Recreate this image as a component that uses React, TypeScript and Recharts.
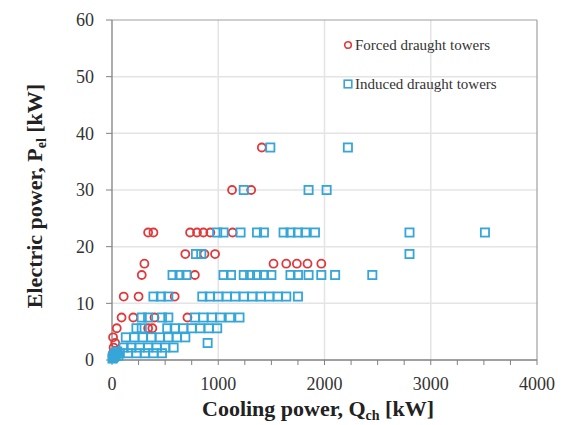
import React from "react";
import {
  ScatterChart,
  Scatter,
  XAxis,
  YAxis,
  ReferenceLine,
} from "recharts";

// Forced draught towers (red circles)
const forcedQ = [
  1410,
  1130, 1310,
  340, 390, 735, 800, 860, 925, 1135,
  690, 870, 970,
  305, 1520, 1640, 1740, 1840, 1970,
  280, 780,
  110, 250, 590,
  90, 200, 400, 710,
  45, 340, 380,
  10, 30, 15, 10, 5,
];
const forcedP = [
  37.5,
  30, 30,
  22.5, 22.5, 22.5, 22.5, 22.5, 22.5, 22.5,
  18.7, 18.7, 18.7,
  17, 17, 17, 17, 17, 17,
  15, 15,
  11.2, 11.2, 11.2,
  7.5, 7.5, 7.5, 7.5,
  5.6, 5.6, 5.6,
  4, 3, 2.2, 1.2, 0.75,
];

// Induced draught towers (blue squares)
const inducedQ = [
  1490, 2220,
  1240, 1850, 2020,
  990, 1050, 1210, 1365, 1430, 1615, 1680, 1750, 1820, 1910, 2800, 3510,
  790, 840, 2800,
  570, 635, 700, 1050, 1120, 1240, 1300, 1365, 1430, 1500, 1680, 1750, 1850, 1970, 2100, 2450,
  390, 460, 530, 850, 920, 1000, 1080, 1160, 1240, 1320, 1400, 1480, 1560, 1640, 1750,
  280, 340, 470, 530, 780, 860, 940, 1020, 1110, 1200,
  230, 280, 520, 590, 670, 750, 830, 910, 990,
  130, 210, 290, 370, 450, 530, 610, 690,
  900,
  110, 180, 260, 340, 420, 500, 580,
  70, 150, 230, 310, 390, 470,
  5, 10, 20, 30, 40, 15, 50, 25, 60, 8,
];
const inducedP = [
  37.5, 37.5,
  30, 30, 30,
  22.5, 22.5, 22.5, 22.5, 22.5, 22.5, 22.5, 22.5, 22.5, 22.5, 22.5, 22.5,
  18.7, 18.7, 18.7,
  15, 15, 15, 15, 15, 15, 15, 15, 15, 15, 15, 15, 15, 15, 15, 15,
  11.2, 11.2, 11.2, 11.2, 11.2, 11.2, 11.2, 11.2, 11.2, 11.2, 11.2, 11.2, 11.2, 11.2, 11.2,
  7.5, 7.5, 7.5, 7.5, 7.5, 7.5, 7.5, 7.5, 7.5, 7.5,
  5.6, 5.6, 5.6, 5.6, 5.6, 5.6, 5.6, 5.6, 5.6,
  4, 4, 4, 4, 4, 4, 4, 4,
  3,
  2.2, 2.2, 2.2, 2.2, 2.2, 2.2, 2.2,
  1.2, 1.2, 1.2, 1.2, 1.2, 1.2,
  0.25, 0.4, 0.55, 0.75, 1.1, 0.75, 1.5, 1.1, 0.75, 0.55,
];

const xTicks = [0, 250, 500, 750, 1000, 1250, 1500, 1750, 2000, 2250, 2500, 2750, 3000, 3250, 3500, 3750, 4000];
const yTicks = [0, 10, 20, 30, 40, 50, 60];
const xGrid = [1000, 2000, 3000];
const yGrid = [10, 20, 30, 40, 50];

const seriesNames = ["Forced draught towers", "Induced draught towers"];

const RED = "#e0393c";
const BLUE = "#35a6d8";
const FONT = "'Liberation Serif', 'Times New Roman', serif";

const forcedData = forcedQ.map((q, i) => ({ q, p: forcedP[i] }));
const inducedData = inducedQ.map((q, i) => ({ q, p: inducedP[i] }));

const Circle = (props: any) => {
  const { cx, cy } = props;
  if (cx == null || cy == null) return null;
  return <circle cx={cx} cy={cy} r={4} fill="none" stroke={RED} strokeWidth={1.8} />;
};

const Square = (props: any) => {
  const { cx, cy } = props;
  if (cx == null || cy == null) return null;
  return (
    <rect x={cx - 4.1} y={cy - 4.1} width={8.2} height={8.2} fill="none" stroke={BLUE} strokeWidth={1.8} />
  );
};

const LegendBox = () => (
  <div
    style={{
      position: "absolute",
      left: 343,
      top: 36,
      fontFamily: FONT,
      fontSize: 15,
      color: "#333",
      lineHeight: "18px",
    }}
  >
    <div style={{ display: "flex", alignItems: "center", height: 18 }}>
      <svg width={10} height={10} style={{ marginRight: 2 }}>
        <circle cx={5} cy={5} r={3.3} fill="none" stroke={RED} strokeWidth={1.6} />
      </svg>
      <span>{seriesNames[0]}</span>
    </div>
    <div style={{ display: "flex", alignItems: "center", height: 18, marginTop: 21 }}>
      <svg width={10} height={10} style={{ marginRight: 2 }}>
        <rect x={1.2} y={1.2} width={7.6} height={7.6} fill="none" stroke={BLUE} strokeWidth={1.6} />
      </svg>
      <span>{seriesNames[1]}</span>
    </div>
  </div>
);

export default function App() {
  return (
    <div style={{ position: "absolute", left: 0, top: 0, width: 567, height: 425, background: "#fff" }}>
      <ScatterChart width={567} height={425} margin={{ top: 20, right: 30, bottom: 35, left: 52 }}>
        {xGrid.map((v) => (
          <ReferenceLine key={"gx" + v} x={v} stroke="#e4e4e4" strokeWidth={1.5} ifOverflow="hidden" />
        ))}
        {yGrid.map((v) => (
          <ReferenceLine key={"gy" + v} y={v} stroke="#e4e4e4" strokeWidth={1.5} ifOverflow="hidden" />
        ))}
        <ReferenceLine y={60} stroke="#a0a0a0" strokeWidth={1.2} />
        <ReferenceLine x={4000} stroke="#a0a0a0" strokeWidth={1.2} />
        <XAxis
          type="number"
          dataKey="q"
          domain={[0, 4000]}
          ticks={xTicks}
          interval={0}
          height={30}
          tickFormatter={(v: number) => (v % 1000 === 0 ? String(v) : "")}
          tick={{ fontFamily: FONT, fontSize: 18, fill: "#333" }}
          tickSize={5}
          tickMargin={12}
          axisLine={{ stroke: "#808080", strokeWidth: 1.3 }}
          tickLine={{ stroke: "#808080" }}
        />
        <YAxis
          type="number"
          dataKey="p"
          domain={[0, 60]}
          ticks={yTicks}
          interval={0}
          width={60}
          tick={{ fontFamily: FONT, fontSize: 18, fill: "#333" }}
          tickSize={6}
          tickMargin={12}
          axisLine={{ stroke: "#808080", strokeWidth: 1.3 }}
          tickLine={{ stroke: "#808080" }}
        />
        <Scatter name={seriesNames[0]} data={forcedData} shape={<Circle />} isAnimationActive={false} />
        <Scatter name={seriesNames[1]} data={inducedData} shape={<Square />} isAnimationActive={false} />
      </ScatterChart>
      <LegendBox />
      <svg
        width={567}
        height={425}
        style={{ position: "absolute", left: 0, top: 0, pointerEvents: "none" }}
      >
        <text
          x={318}
          y={416}
          textAnchor="middle"
          fontFamily={FONT}
          fontWeight="bold"
          fontSize={22}
          fill="#222"
        >
          Cooling power, Q<tspan fontSize={14} dy={4}>ch</tspan>
          <tspan dy={-4}> [kW]</tspan>
        </text>
        <text
          transform="translate(42,196) rotate(-90)"
          textAnchor="middle"
          fontFamily={FONT}
          fontWeight="bold"
          fontSize={22}
          fill="#222"
        >
          Electric power, P<tspan fontSize={14} dy={4}>el</tspan>
          <tspan dy={-4}> [kW]</tspan>
        </text>
      </svg>
    </div>
  );
}
